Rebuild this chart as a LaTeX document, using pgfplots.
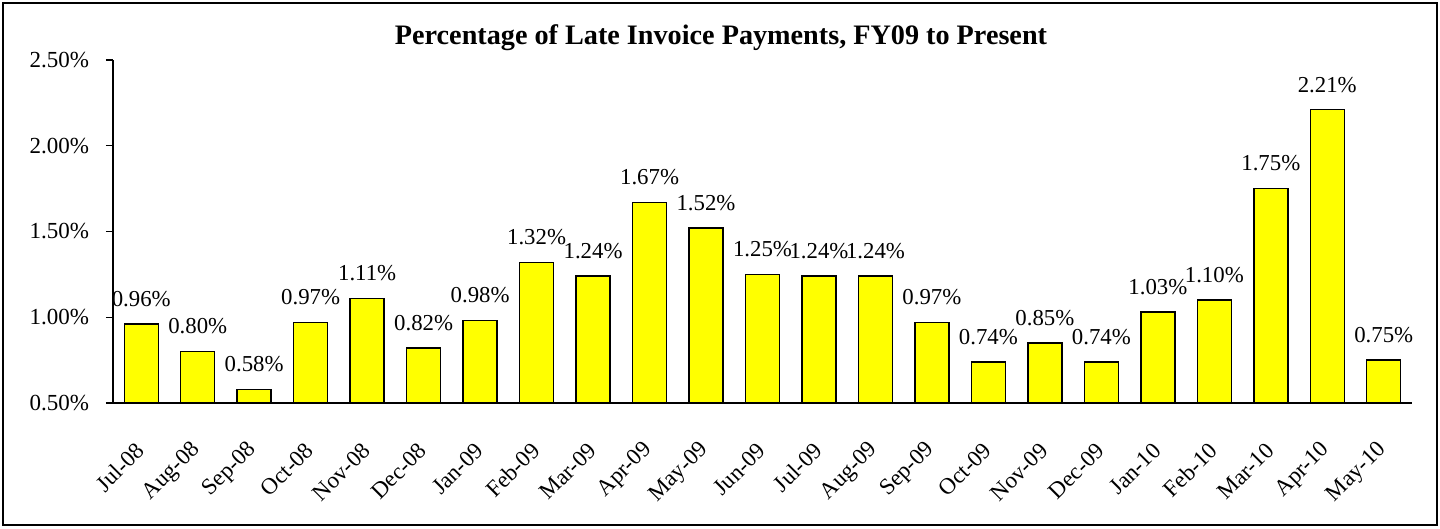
\documentclass[border=0pt]{standalone}
\usepackage{pgfplots}
\pgfplotsset{compat=1.18}
\usepackage{fontspec}
\setmainfont{Liberation Serif}
\definecolor{baryellow}{RGB}{255,255,0}
\begin{document}
\begin{tikzpicture}
\useasboundingbox (-56.5pt,-63pt) rectangle (663.5pt,201.5pt);
\draw[line width=0.9pt] (-55pt,-61pt) rectangle (662pt,200pt);
\begin{axis}[
  at={(0,0)}, anchor=south west,
  scale only axis, width=649.5pt, height=171.5pt,
  ybar, bar width=17pt,
  xmin=-0.5, xmax=22.5, ymin=0.5, ymax=2.5,
  ytick={0.5,1,1.5,2,2.5},
  xtick=data,
  xticklabels={Jul-08,Aug-08,Sep-08,Oct-08,Nov-08,Dec-08,Jan-09,Feb-09,Mar-09,Apr-09,May-09,Jun-09,Jul-09,Aug-09,Sep-09,Oct-09,Nov-09,Dec-09,Jan-10,Feb-10,Mar-10,Apr-10,May-10},
  axis lines*=left,
  axis line style={line width=0.7pt, black},
  x axis line style={-}, y axis line style={-},
  tick align=outside,
  major tick length=3.5pt,
  tick style={black, line width=0.7pt},
  xtick style={draw=none},
  /pgf/number format/assume math mode=true,
  yticklabel={\pgfmathprintnumber[fixed,fixed zerofill,precision=2]{\tick}\%},
  yticklabel style={font=\fontsize{11.5}{13}\selectfont, xshift=-5pt},
  xticklabel style={font=\fontsize{11.5}{13}\selectfont, xshift=2pt, yshift=-16pt, rotate=45, anchor=east},
  nodes near coords={\pgfmathprintnumber[fixed,fixed zerofill,precision=2]{\pgfplotspointmeta}\%},
  nodes near coords style={font=\fontsize{11.4}{13}\selectfont, yshift=5pt},
  clip=true,
]
\addplot[fill=baryellow, draw=black, line width=0.7pt] coordinates {
(0,0.96) (1,0.80) (2,0.58) (3,0.97) (4,1.11) (5,0.82) (6,0.98) (7,1.32) (8,1.24) (9,1.67) (10,1.52) (11,1.25) (12,1.24) (13,1.24) (14,0.97) (15,0.74) (16,0.85) (17,0.74) (18,1.03) (19,1.10) (20,1.75) (21,2.21) (22,0.75)
};
\end{axis}
\node[anchor=base, font=\bfseries\fontsize{14.1}{17}\selectfont] at (304pt,179pt) {Percentage of Late Invoice Payments, FY09 to Present};
\end{tikzpicture}
\end{document}
